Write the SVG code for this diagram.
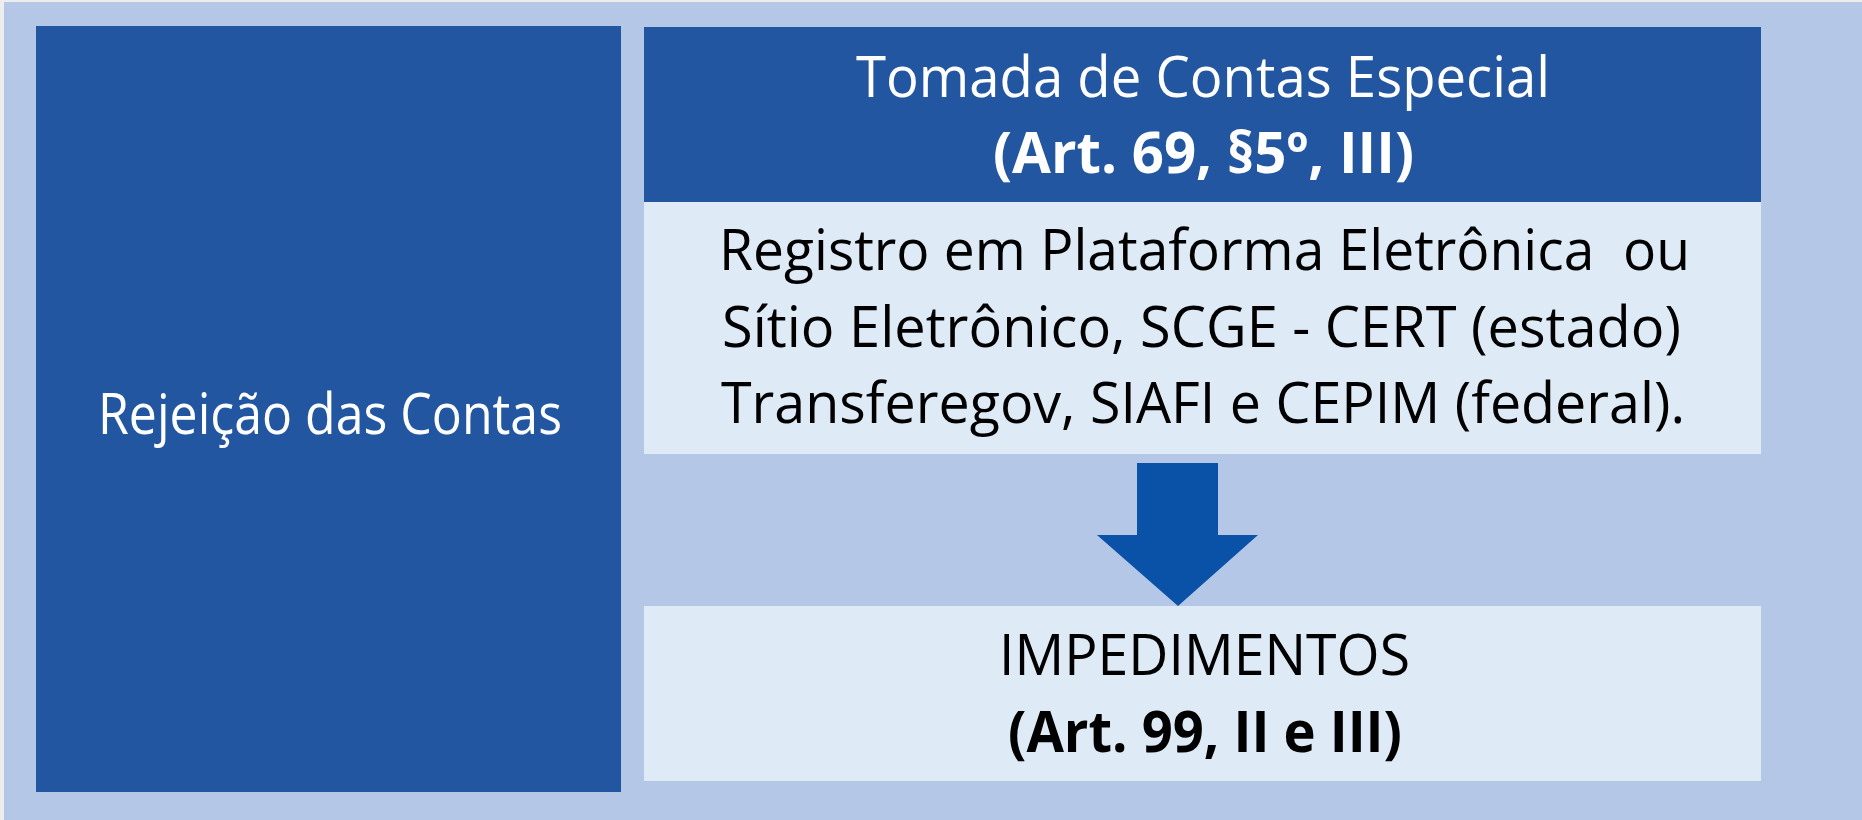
<svg xmlns="http://www.w3.org/2000/svg" width="1862" height="820" viewBox="0 0 1862 820">
  <style>
    .t { font-family: "Open Sans", "Noto Sans", "Liberation Sans", sans-serif; font-size: 57px; text-anchor: middle; white-space: pre; }
    .w { fill: #FFFFFF; }
    .k { fill: #000000; }
    .b { font-weight: bold; }
    .dark { fill: #2356A1; }
    .light { fill: #DEEAF6; }
  </style>
  <rect x="0" y="0" width="1862" height="820" fill="#EDEDED"/>
  <rect x="4" y="2" width="1858" height="818" fill="#B4C7E7"/>

  <g id="rejeicao">
    <rect class="dark" x="36" y="26" width="585" height="766"/>
    <text class="t w" x="330" y="434" textLength="464" lengthAdjust="spacingAndGlyphs">Rejeição das Contas</text>
  </g>

  <g id="tomada">
    <rect class="dark" x="644" y="27" width="1117" height="175"/>
    <text class="t w" x="1203" y="97" textLength="694" lengthAdjust="spacingAndGlyphs">Tomada de Contas Especial</text>
    <text class="t w b" x="1203.5" y="173" textLength="421" lengthAdjust="spacingAndGlyphs">(Art. 69, §5º, III)</text>
  </g>

  <g id="registro">
    <rect class="light" x="644" y="202" width="1117" height="252"/>
    <text class="t k" x="1204.5" y="270" textLength="971" lengthAdjust="spacingAndGlyphs">Registro em Plataforma Eletrônica  ou</text>
    <text class="t k" x="1201.5" y="347" textLength="959" lengthAdjust="spacingAndGlyphs">Sítio Eletrônico, SCGE - CERT (estado)</text>
    <text class="t k" x="1203" y="423" textLength="964" lengthAdjust="spacingAndGlyphs">Transferegov, SIAFI e CEPIM (federal).</text>
  </g>

  <g id="impedimentos">
    <rect class="light" x="644" y="606" width="1117" height="175"/>
    <text class="t k" x="1204.5" y="675" textLength="411" lengthAdjust="spacingAndGlyphs">IMPEDIMENTOS</text>
    <text class="t k b" x="1205" y="752" textLength="394" lengthAdjust="spacingAndGlyphs">(Art. 99, II e III)</text>
  </g>

  <g id="connectors">
    <polygon points="1137,463 1218,463 1218,535 1258,535 1178,606 1097,535 1137,535" fill="#0A52A8"/>
  </g>
</svg>
